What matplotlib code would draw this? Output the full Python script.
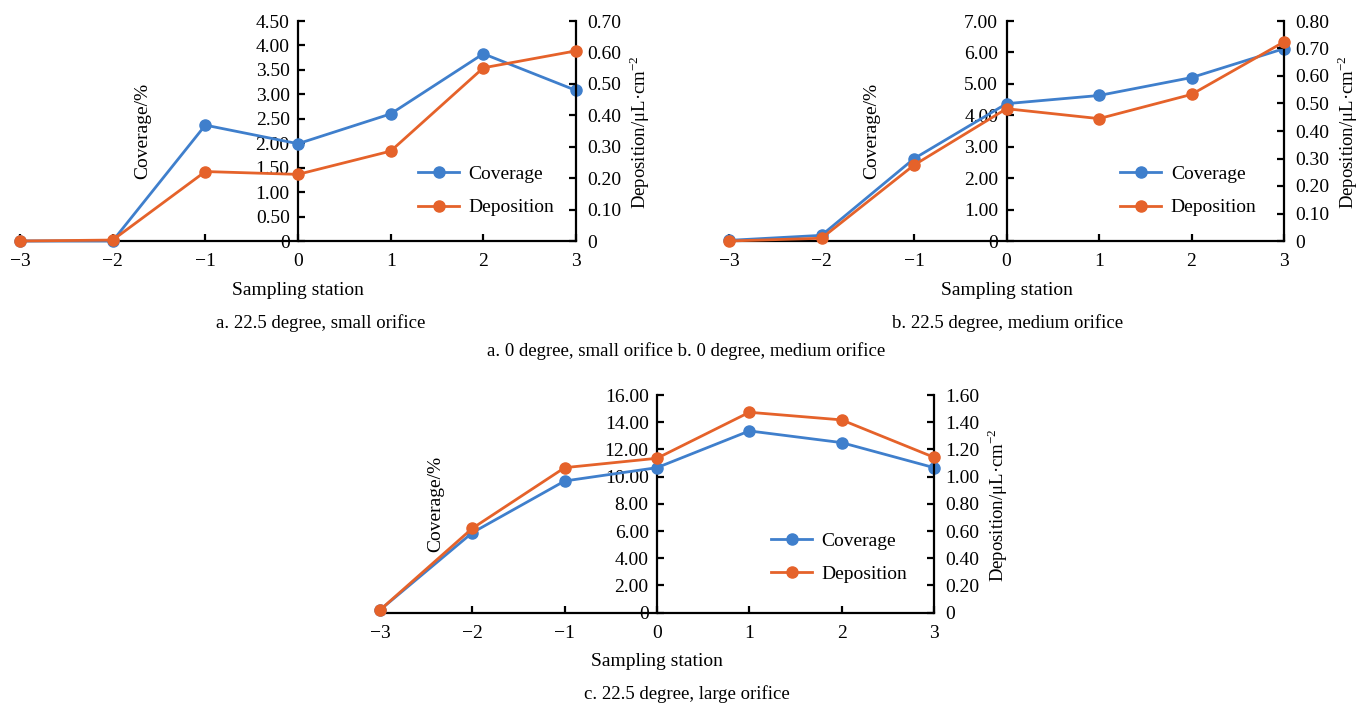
import matplotlib
matplotlib.use("Agg")
import matplotlib.pyplot as plt
from matplotlib.ticker import FuncFormatter, MultipleLocator

plt.rcParams['font.family'] = ['Liberation Serif', 'DejaVu Serif']
plt.rcParams['mathtext.fontset'] = 'stix'

stations = [-3, -2, -1, 0, 1, 2, 3]

cov_a = [0.0, 0.0, 2.37, 1.99, 2.60, 3.83, 3.08]
dep_a = [0.0, 0.003, 0.221, 0.212, 0.286, 0.551, 0.605]

cov_b = [0.02, 0.18, 2.62, 4.37, 4.63, 5.20, 6.12]
dep_b = [0.0, 0.01, 0.276, 0.481, 0.445, 0.533, 0.724]

cov_c = [0.2, 5.88, 9.68, 10.66, 13.36, 12.50, 10.66]
dep_c = [0.02, 0.62, 1.066, 1.135, 1.473, 1.417, 1.142]

captions = ["a. 22.5 degree, small orifice", "b. 22.5 degree, medium orifice",
            "c. 22.5 degree, large orifice"]
mid_caption = "a. 0 degree, small orifice b. 0 degree, medium orifice"

BLUE = '#3f7fcc'
ORANGE = '#e5622a'
FS = 14

W, H = 1360, 704
fig = plt.figure(figsize=(W / 100, H / 100), dpi=100)


def fmt(v, pos):
    if abs(v) < 1e-9:
        return '0'
    return f'{v:.2f}'


def panel(rect, cov, dep, lmax, lstep, rmax, rstep, leg_xy, cov_lab_x):
    l, b, w, h = rect
    ax = fig.add_axes([l / W, 1 - (b) / H, w / W, h / H])
    ax.set_xlim(-3, 3)
    ax.set_ylim(0, lmax)
    ax.yaxis.set_major_locator(MultipleLocator(lstep))
    ax.yaxis.set_major_formatter(FuncFormatter(fmt))
    ax.set_xticks(stations)
    ax.spines['left'].set_position(('data', 0))
    ax.spines['top'].set_visible(False)
    ax.spines['right'].set_visible(False)
    for s in ax.spines.values():
        s.set_linewidth(1.6)
    ax.tick_params(axis='y', direction='in', length=5, width=1.6, pad=6, labelsize=FS)
    ax.tick_params(axis='x', direction='in', length=5, width=1.6, pad=9, labelsize=FS)
    ax.patch.set_visible(False)

    ax2 = ax.twinx()
    ax2.set_ylim(0, rmax)
    ax2.yaxis.set_major_locator(MultipleLocator(rstep))
    ax2.yaxis.set_major_formatter(FuncFormatter(fmt))
    for k in ['left', 'top', 'bottom']:
        ax2.spines[k].set_visible(False)
    ax2.spines['right'].set_linewidth(1.6)
    ax2.tick_params(axis='y', direction='in', length=5, width=1.6, pad=8, labelsize=FS)

    l1, = ax.plot(stations, cov, color=BLUE, lw=2.0, marker='o', ms=8,
                  clip_on=False, zorder=3, label='Coverage')
    l2, = ax2.plot(stations, dep, color=ORANGE, lw=2.0, marker='o', ms=8,
                   clip_on=False, zorder=3, label='Deposition')

    ax2.legend(handles=[l1, l2], loc='center left', bbox_to_anchor=leg_xy,
               frameon=False, fontsize=FS, handlelength=2.1, handletextpad=0.5,
               labelspacing=0.8, borderpad=0, borderaxespad=0)

    ax.text(cov_lab_x, 0.50, 'Coverage/%', rotation=90, transform=ax.transAxes,
            ha='center', va='center', fontsize=FS)
    ax2.text(1 + 64 / w, 0.495, 'Deposition/μL·cm$^{\\mathregular{-2}}$', rotation=90,
             transform=ax2.transAxes, ha='center', va='center', fontsize=FS - 0.5)
    ax.set_xlabel('Sampling station', fontsize=FS, labelpad=8)
    return ax


panel((20, 241, 556, 220), cov_a, dep_a, 4.5, 0.5, 0.7, 0.1, (0.716, 0.227), 0.22)
panel((729, 241, 555, 220), cov_b, dep_b, 7.0, 1.0, 0.8, 0.1, (0.705, 0.227), 0.258)
panel((380, 612.7, 554, 217.7), cov_c, dep_c, 16.0, 2.0, 1.6, 0.2, (0.706, 0.253), 0.10)

fig.text(321 / W, 1 - 323 / H, captions[0], ha='center', va='center', fontsize=FS - 0.5)
fig.text(1008 / W, 1 - 323 / H, captions[1], ha='center', va='center', fontsize=FS - 0.5)
fig.text(686 / W, 1 - 351 / H, mid_caption, ha='center', va='center', fontsize=FS - 0.5)
fig.text(687 / W, 1 - 694 / H, captions[2], ha='center', va='center', fontsize=FS - 0.5)

fig.savefig('out.png', dpi=100)
